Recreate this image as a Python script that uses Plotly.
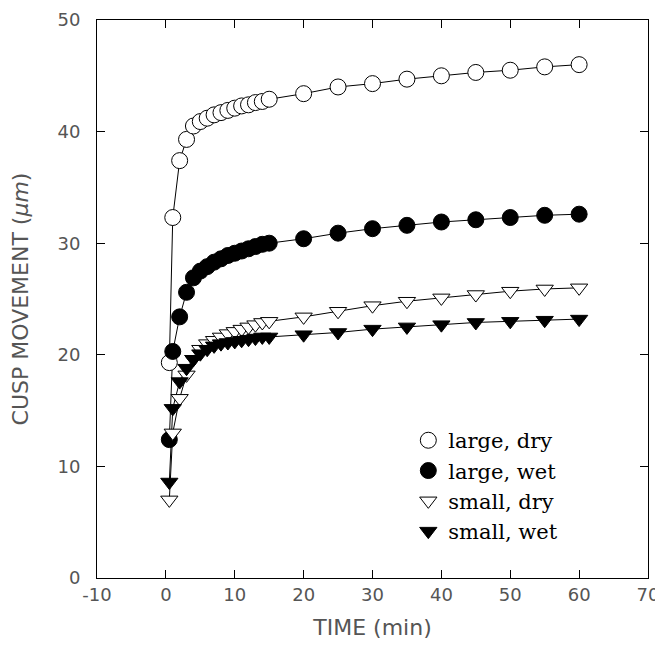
import plotly.graph_objects as go

time_min = [0.5, 1, 2, 3, 4, 5, 6, 7, 8, 9, 10, 11, 12, 13, 14, 15,
            20, 25, 30, 35, 40, 45, 50, 55, 60]

large_dry = [19.3, 32.3, 37.4, 39.3, 40.5, 40.9, 41.2, 41.5, 41.7, 41.9, 42.1, 42.3, 42.4,
             42.6, 42.7, 42.9, 43.4, 44.0, 44.3, 44.7, 45.0, 45.3, 45.5, 45.8, 46.0]
large_wet = [12.4, 20.3, 23.4, 25.6, 26.9, 27.5, 27.9, 28.3, 28.6, 28.9, 29.1, 29.3, 29.5,
             29.7, 29.9, 30.0, 30.4, 30.9, 31.3, 31.6, 31.9, 32.1, 32.3, 32.5, 32.6]
small_dry = [7.0, 13.0, 16.1, 18.2, 19.6, 20.5, 21.0, 21.3, 21.6, 21.9, 22.1, 22.3, 22.5,
             22.7, 22.9, 23.0, 23.4, 23.9, 24.4, 24.8, 25.1, 25.4, 25.7, 25.9, 26.0]
small_wet = [8.6, 15.2, 17.6, 18.8, 19.6, 20.1, 20.5, 20.8, 21.0, 21.1, 21.2, 21.3, 21.4,
             21.5, 21.6, 21.6, 21.8, 22.0, 22.3, 22.5, 22.7, 22.9, 23.0, 23.1, 23.2]

series_names = ["large, dry", "large, wet", "small, dry", "small, wet"]
x_ticks = [-10, 0, 10, 20, 30, 40, 50, 60, 70]
y_ticks = [0, 10, 20, 30, 40, 50]

styles = [
    dict(symbol="circle", color="white", size=16),
    dict(symbol="circle", color="black", size=16),
    dict(symbol="triangle-down", color="white", size=15),
    dict(symbol="triangle-down", color="black", size=15),
]

fig = go.Figure()
all_series = [large_dry, large_wet, small_dry, small_wet]
for name, vals in zip(series_names, all_series):
    fig.add_trace(go.Scatter(
        x=time_min, y=vals, mode="lines", showlegend=False, hoverinfo="skip",
        line=dict(color="black", width=1), legendgroup=name,
    ))
for name, vals, st in zip(series_names, all_series, styles):
    fig.add_trace(go.Scatter(
        x=time_min, y=vals, name=name, mode="markers", legendgroup=name,
        marker=dict(symbol=st["symbol"], size=st["size"], color=st["color"],
                    line=dict(color="black", width=1)),
    ))

axis_font = dict(family="DejaVu Sans", size=18, color="#555")
common = dict(showgrid=False, zeroline=False, showline=True, linecolor="black", linewidth=1,
              mirror="ticks", ticks="inside", ticklen=8, tickcolor="black", tickwidth=1,
              tickfont=axis_font, automargin=False, ticklabeloverflow="allow")

fig.update_xaxes(range=[-10, 70], tickvals=x_ticks, ticktext=[str(v) for v in x_ticks],
                 title=dict(text="TIME (min)", font=dict(family="DejaVu Sans", size=22, color="#555"),
                            standoff=16), **common)
fig.update_yaxes(range=[0, 50], tickvals=y_ticks, ticktext=[str(v) for v in y_ticks],
                 ticklabelstandoff=12,
                 title=dict(text="CUSP MOVEMENT (<i>μm</i>)",
                            font=dict(family="DejaVu Sans", size=22, color="#555"), standoff=26),
                 **common)

fig.update_layout(
    width=663, height=656,
    margin=dict(l=89, r=23, t=12, b=86),
    plot_bgcolor="white", paper_bgcolor="white",
    legend=dict(x=0.565, y=0.283, xanchor="left", yanchor="top",
                font=dict(family="DejaVu Serif", size=21, color="black"),
                bgcolor="rgba(0,0,0,0)", borderwidth=0, tracegroupgap=0),
    showlegend=True,
)

fig.write_html("out.html")
